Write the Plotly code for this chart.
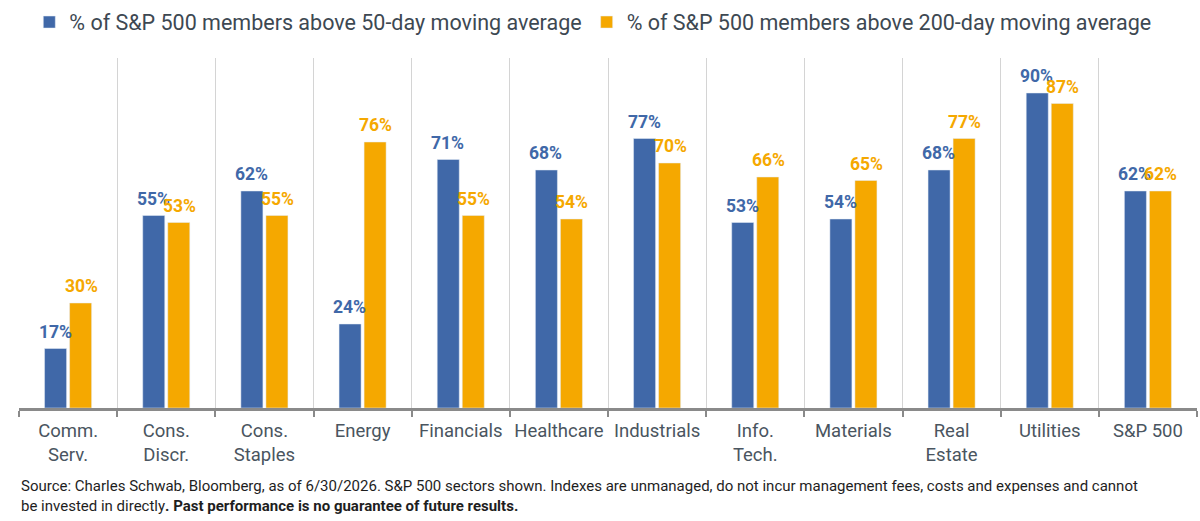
import plotly.graph_objects as go

categories = ["Comm.<br>Serv.", "Cons.<br>Discr.", "Cons.<br>Staples", "Energy", "Financials",
              "Healthcare", "Industrials", "Info.<br>Tech.", "Materials", "Real<br>Estate",
              "Utilities", "S&P 500"]
above_50 = [17, 55, 62, 24, 71, 68, 77, 53, 54, 68, 90, 62]
above_200 = [30, 53, 55, 76, 55, 54, 70, 66, 65, 77, 87, 62]
series_names = ["% of S&P 500 members above 50-day moving average",
                "% of S&P 500 members above 200-day moving average"]

BLUE = "#4068a8"
ORANGE = "#f5a800"
FONT = "Roboto"

fig = go.Figure()
series = [(above_50, series_names[0], BLUE, -13), (above_200, series_names[1], ORANGE, 13)]
for vals, name, col, dx in series:
    fig.add_trace(go.Bar(x=categories, y=vals, name=name, marker_color=col))
    for c, v in zip(categories, vals):
        fig.add_annotation(x=c, y=v, xref="x", yref="y", text=f"<b>{v}%</b>",
                           showarrow=False, xanchor="center", yanchor="bottom",
                           xshift=dx, yshift=5,
                           font=dict(color=col, size=17.5, family=FONT))

fig.update_layout(
    width=1200, height=521,
    margin=dict(l=19, r=3, t=58, b=113, autoexpand=False),
    plot_bgcolor="white", paper_bgcolor="white",
    barmode="group", bargap=0.49, bargroupgap=0.12,
    font=dict(family=FONT, color="#4a5560"),
    legend=dict(orientation="h", xref="container", x=0.494, xanchor="center",
                yref="container", y=0.997, yanchor="top",
                font=dict(size=21.5, color="#3d4852"),
                itemwidth=30, traceorder="normal"),
    showlegend=True,
)
fig.update_xaxes(
    tickson="boundaries", showgrid=True, gridcolor="#d4d4d4", gridwidth=1,
    showline=True, linecolor="#8a8a8a", linewidth=3,
    ticks="outside", ticklen=6, tickcolor="#8a8a8a", tickwidth=2,
    tickfont=dict(size=18.5, color="#4a5560"), ticklabelstandoff=4, tickangle=0,
)
fig.update_yaxes(range=[0, 100], visible=False)

fig.add_annotation(
    xref="paper", yref="paper", x=0.0, xanchor="left", y=-0.19, yanchor="top",
    align="left", showarrow=False,
    text=("Source: Charles Schwab, Bloomberg, as of 6/30/2026. S&P 500 sectors shown. Indexes are unmanaged, do not incur management fees, costs and expenses and cannot<br>"
          "be invested in directly<b>. Past performance is no guarantee of future results.</b>"),
    font=dict(size=15, color="#1e1e1e", family=FONT),
    xshift=0,
)

fig.write_html("out.html")
